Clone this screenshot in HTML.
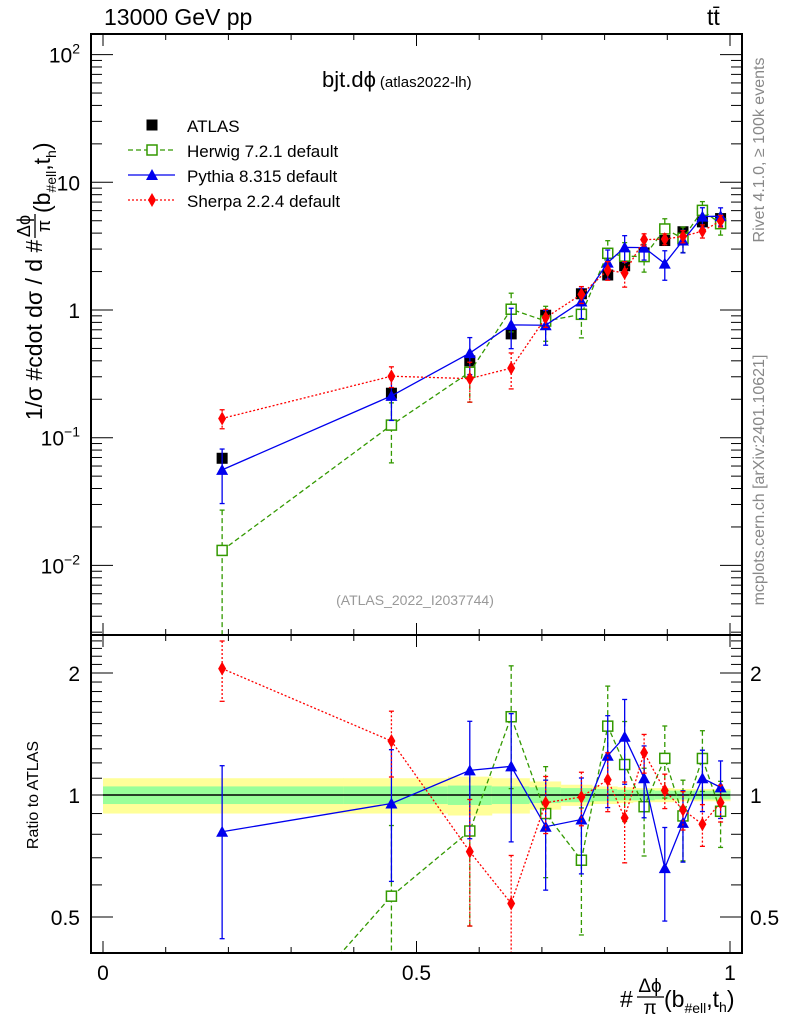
<!DOCTYPE html>
<html><head><meta charset="utf-8"><style>
html,body{margin:0;padding:0;background:#fff;width:786px;height:1024px;overflow:hidden;}
svg{display:block;font-family:"Liberation Sans",sans-serif;overflow:hidden;}
</style></head><body>
<svg id="c" width="786" height="1024" viewBox="0 0 786 1024" xmlns="http://www.w3.org/2000/svg"></svg>
<script>
const xCenters=[0.190,0.460,0.585,0.651,0.706,0.763,0.805,0.832,0.863,0.896,0.925,0.956,0.985];
const binEdges=[0,0.383,0.55,0.62,0.68,0.73,0.78,0.82,0.845,0.88,0.91,0.94,0.97,1.0];
const atlasVals=[0.069,0.223,0.40,0.65,0.91,1.34,1.88,2.22,2.8,3.5,4.1,4.9,5.2];
const atlasErr=[0.007,0.02,0.03,0.05,0.05,0.06,0.09,0.1,0.12,0.12,0.12,0.14,0.14];
const bandGreen=[0.05,0.05,0.055,0.05,0.045,0.04,0.035,0.03,0.03,0.025,0.025,0.025,0.025];
const bandYellow=[0.10,0.10,0.11,0.10,0.08,0.06,0.05,0.045,0.04,0.04,0.035,0.035,0.035];
const herwigVals=[0.0131,0.1255,0.326,1.014,0.819,0.925,2.78,2.64,2.62,4.31,3.64,6.03,4.74];
const herwigErr=[0.014,0.062,0.136,0.34,0.25,0.32,0.71,0.73,0.64,0.87,0.82,1.03,0.88];
const pythiaVals=[0.056,0.2125,0.46,0.765,0.76,1.166,2.35,3.09,3.08,2.31,3.5,5.39,5.43];
const pythiaErr=[0.0255,0.076,0.148,0.267,0.23,0.31,0.60,0.73,0.62,0.60,0.70,0.93,0.88];
const sherpaVals=[0.1415,0.303,0.29,0.351,0.871,1.325,2.05,1.95,3.56,3.59,3.77,4.15,4.98];
const sherpaErr=[0.024,0.056,0.10,0.11,0.14,0.20,0.34,0.44,0.39,0.35,0.41,0.49,0.52];
const xTickLabels=["0","0.5","1"];
const yTickLabels=["10\u207B\u00B2","10\u207B\u00B9","1","10","10\u00B2"];
const rTickLabels=["0.5","1","2"];

const NS="http://www.w3.org/2000/svg";
const svg=document.getElementById('c');
function el(t,a,p){const e=document.createElementNS(NS,t);for(const k in a)e.setAttribute(k,a[k]);(p||svg).appendChild(e);return e;}
const L=91,R=742,T=34,MB=635,B=953;
const X=v=>103+627*v;
const Y=v=>310-127.7*Math.log10(v);
const RY=r=>795-122*Math.log2(r);

const defs=el('defs',{});
const c1=el('clipPath',{id:'cm'},defs);el('rect',{x:L,y:T,width:R-L,height:MB-T},c1);
const c2=el('clipPath',{id:'cr'},defs);el('rect',{x:L,y:MB,width:R-L,height:B-MB},c2);
const gm=el('g',{'clip-path':'url(#cm)'});


const gr=el('g',{'clip-path':'url(#cr)'});



for(let i=0;i<xCenters.length;i++){
  const x0=X(binEdges[i]),x1=X(binEdges[i+1]);
  const y=el('rect',{x:x0,y:RY(1+bandYellow[i]),width:x1-x0+0.5,height:RY(1-bandYellow[i])-RY(1+bandYellow[i]),fill:'#ffff99'},gr);
  
  
  const g=el('rect',{x:x0,y:RY(1+bandGreen[i]),width:x1-x0+0.5,height:RY(1-bandGreen[i])-RY(1+bandGreen[i]),fill:'#99ff99'},gr);
  
  
}
el('line',{x1:X(0),x2:X(1),y1:RY(1),y2:RY(1),stroke:'#000','stroke-width':1.5},gr);

function marker(type,cx,cy,color,parent){
  let m;
  if(type==='sq') m=el('rect',{x:cx-5.5,y:cy-5.5,width:11,height:11,fill:'#000'},parent);
  else if(type==='osq') m=el('rect',{x:cx-5,y:cy-5,width:10,height:10,fill:'#fff',stroke:color,'stroke-width':1.5},parent);
  else if(type==='tri') m=el('polygon',{points:`${cx},${cy-6} ${cx-6},${cy+5} ${cx+6},${cy+5}`,fill:color},parent);
  else m=el('polygon',{points:`${cx},${cy-7} ${cx-4},${cy} ${cx},${cy+7} ${cx+4},${cy}`,fill:color},parent);
  return m;
}
const series=[
 {name:'herwig',vals:herwigVals,err:herwigErr,color:'#339900',dash:'5,3',m:'osq'},
 {name:'pythia',vals:pythiaVals,err:pythiaErr,color:'#0000ee',dash:'',m:'tri'},
 {name:'sherpa',vals:sherpaVals,err:sherpaErr,color:'#ff0000',dash:'2,2',m:'dia'}
];
for(let i=0;i<xCenters.length;i++){
  el('line',{x1:X(xCenters[i]),x2:X(xCenters[i]),y1:Y(atlasVals[i]+atlasErr[i]),y2:Y(atlasVals[i]-atlasErr[i]),stroke:'#000','stroke-width':1.5},gm);
  const m=marker('sq',X(xCenters[i]),Y(atlasVals[i]),'#000',gm);
  
  
}
series.forEach(s=>{
  [[gm,(i)=>s.vals[i],(i,d)=>s.vals[i]+d*s.err[i],Y],[gr,(i)=>s.vals[i]/atlasVals[i],(i,d)=>(s.vals[i]+d*s.err[i])/atlasVals[i],RY]].forEach(([g,val,ev,YF])=>{
    const pts=xCenters.map((x,i)=>X(x)+','+YF(val(i))).join(' ');
    const pl=el('polyline',{points:pts,fill:'none',stroke:s.color,'stroke-width':1.3,'stroke-dasharray':s.dash},g);
    
    
    for(let i=0;i<xCenters.length;i++){
      const lo=Math.max(ev(i,-1),1e-6);
      const eb=el('line',{x1:X(xCenters[i]),x2:X(xCenters[i]),y1:YF(ev(i,1)),y2:YF(lo),stroke:s.color,'stroke-width':1.3,'stroke-dasharray':s.dash},g);
      
      
      el('line',{x1:X(xCenters[i])-2.5,x2:X(xCenters[i])+2.5,y1:YF(ev(i,1)),y2:YF(ev(i,1)),stroke:s.color,'stroke-width':1.3},g);
      el('line',{x1:X(xCenters[i])-2.5,x2:X(xCenters[i])+2.5,y1:YF(lo),y2:YF(lo),stroke:s.color,'stroke-width':1.3},g);
      const m=marker(s.m,X(xCenters[i]),YF(val(i)),s.color,g);
      
      
    }
  });
});

el('rect',{x:L,y:T,width:R-L,height:MB-T,fill:'none',stroke:'#000','stroke-width':2});
el('rect',{x:L,y:MB,width:R-L,height:B-MB,fill:'none',stroke:'#000','stroke-width':2});

function txt(s,a,name,p){const t=el('text',a,p);t.textContent=s;return t;}
for(let v=0;v<=1.0001;v+=0.1){
  const big=Math.abs(v*2-Math.round(v*2))<1e-6, h=big?12:6;
  [[T,1],[MB,1],[MB,-1],[B,-1]].forEach(([y,d])=>el('line',{x1:X(v),x2:X(v),y1:y,y2:y+d*h,stroke:'#000','stroke-width':1}));
}
xTickLabels.forEach((s,i)=>txt(s,{x:X(i*0.5),y:980,'font-size':21,'text-anchor':'middle'},'x-tick-label'));
for(let e=-3;e<=2;e++){
  for(let k=1;k<=9;k++){
    const v=k*Math.pow(10,e), y=Y(v);
    if(y<T||y>MB)continue;
    const h=k===1?22:11;
    el('line',{x1:L,x2:L+h,y1:y,y2:y,stroke:'#000'});
    el('line',{x1:R,x2:R-h,y1:y,y2:y,stroke:'#000'});
  }
}
yTickLabels.forEach((s,i)=>{
  const v=Math.pow(10,i-2);
  const t=el('text',{x:80,y:Y(v)+8,'font-size':21,'text-anchor':'end'});
  
  
  if(i===2||i===3){t.textContent=s;}
  else{const b=el('tspan',{},t);b.textContent='10';const sp=el('tspan',{dy:-9,'font-size':14},t);sp.textContent=(i===0?'\u22122':i===1?'\u22121':'2');}
});
for(let r=0.4;r<=2.5;r+=0.1){
  const y=RY(r); if(y<MB||y>B)continue;
  const big=[0.5,1,2].some(q=>Math.abs(q-r)<1e-6), h=big?22:11;
  el('line',{x1:L,x2:L+h,y1:y,y2:y,stroke:'#000'});
  el('line',{x1:R,x2:R-h,y1:y,y2:y,stroke:'#000'});
}
rTickLabels.forEach((s,i)=>{
  const r=[0.5,1,2][i];
  txt(s,{x:80,y:RY(r)+8,'font-size':21,'text-anchor':'end'},'ratio-tick-label-left');
  txt(s,{x:750,y:RY(r)+8,'font-size':21,'text-anchor':'start'},'ratio-tick-label-right');
});

txt('13000 GeV pp',{x:104,y:25,'font-size':23},'energy-label');
txt('tt\u0304',{x:707,y:25,'font-size':23},'process-label');
const ti=txt('bjt.d\u03d5',{x:322,y:87,'font-size':22},'plot-title');
const ts=el('tspan',{'font-size':15,dx:4},ti);ts.textContent='(atlas2022-lh)';
txt('(ATLAS_2022_I2037744)',{x:415,y:605,'font-size':14,fill:'#999','text-anchor':'middle'},'analysis-id');
txt('Ratio to ATLAS',{x:0,y:0,'font-size':16,transform:'translate(38,795) rotate(-90)','text-anchor':'middle'},'ratio-y-title');
txt('Rivet 4.1.0, \u2265 100k events',{x:0,y:0,'font-size':16,fill:'#888',transform:'translate(764,150) rotate(-90)','text-anchor':'middle'},'rivet-label');
txt('mcplots.cern.ch [arXiv:2401.10621]',{x:0,y:0,'font-size':16,fill:'#888',transform:'translate(764,480) rotate(-90)','text-anchor':'middle'},'mcplots-label');

const yt=el('text',{transform:'translate(42,330) rotate(-90)','font-size':23,'text-anchor':'middle'});


yt.textContent='1/\u03c3 #cdot d\u03c3 / d #';
const fr=el('g',{transform:'translate(42,330) rotate(-90)'});


txt('\u0394\u03d5',{x:104,y:-12,'font-size':18,'text-anchor':'middle'},'y-title-numerator',fr);
el('line',{x1:92,x2:116,y1:-7,y2:-7,stroke:'#000','stroke-width':1.3},fr);
txt('\u03c0',{x:104,y:8,'font-size':18,'text-anchor':'middle'},'y-title-denominator',fr);
const yt2=txt('(b',{x:117,y:8,'font-size':23},'y-title-tail',fr);
const s1=el('tspan',{dy:6,'font-size':14},yt2);s1.textContent='#ell';
const s2=el('tspan',{dy:-6},yt2);s2.textContent=',t';
const s3=el('tspan',{dy:6,'font-size':14},yt2);s3.textContent='h';
const s4=el('tspan',{dy:-6},yt2);s4.textContent=')';

const xt=el('g',{});


txt('#',{x:620,y:1007,'font-size':23},'x-title-hash',xt);
txt('\u0394\u03d5',{x:650,y:992,'font-size':19,'text-anchor':'middle'},'x-title-numerator',xt);
el('line',{x1:637,x2:664,y1:997,y2:997,stroke:'#000','stroke-width':1.3},xt);
txt('\u03c0',{x:650,y:1014,'font-size':19,'text-anchor':'middle'},'x-title-denominator',xt);
const xr=txt('(b',{x:664,y:1007,'font-size':23},'x-title-tail',xt);
const a1=el('tspan',{dy:6,'font-size':14},xr);a1.textContent='#ell';
const a2=el('tspan',{dy:-6},xr);a2.textContent=',t';
const a3=el('tspan',{dy:5,'font-size':14},xr);a3.textContent='h';
const a4=el('tspan',{dy:-5},xr);a4.textContent=')';

const lg=el('g',{});


const leg=[['ATLAS','sq','#000',''],['Herwig 7.2.1 default','osq','#339900','5,3'],['Pythia 8.315 default','tri','#0000ee',''],['Sherpa 2.2.4 default','dia','#ff0000','2,2']];
leg.forEach((l,i)=>{
  const y=125+i*25;
  if(i>0) el('line',{x1:128,x2:175,y1:y,y2:y,stroke:l[2],'stroke-width':1.3,'stroke-dasharray':l[3]},lg);
  const m=marker(l[1],152,y,l[2],lg);
  
  
  txt(l[0],{x:187,y:y+7,'font-size':17},'legend-entry',lg);
});
</script>
</body></html>
